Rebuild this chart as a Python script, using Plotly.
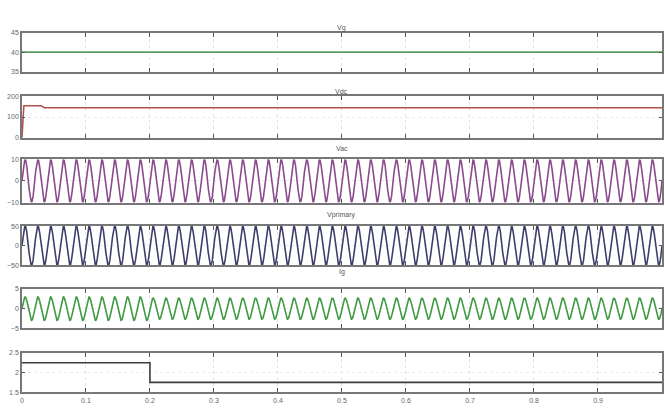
import numpy as np
import plotly.graph_objects as go

W, H = 665, 408

# ---- signal parameters (scope traces) ----
t_end = 1.0
grid_freq = 50.0                      # Hz

vg_level = [40.0]                      # Vg (V)
vdc_time = [0.0, 0.003, 0.03, 0.035, 1.0]
vdc_vals = [0.0, 155.0, 155.0, 145.0, 145.0]
vac_amp = [9.8]                        # Vac peak
vprim_amp = [50.0]                     # Vprimary peak
ig_seg_start = [0.0, 0.2]
ig_seg_amp = [3.0, 2.7]                # Ig peak per segment
step_time = [0.0, 0.2, 0.2, 1.0]
step_vals = [2.25, 2.25, 1.75, 1.75]

x_ticks = [0, 0.1, 0.2, 0.3, 0.4, 0.5, 0.6, 0.7, 0.8, 0.9]
x_ticklabels = ["0", "0.1", "0.2", "0.3", "0.4", "0.5", "0.6", "0.7", "0.8", "0.9"]

titles = ["Vg", "Vdc", "Vac", "Vprimary", "Ig", ""]
y_ranges = [[35, 45], [0, 200], [-10, 10], [-50, 50], [-5, 5], [1.5, 2.5]]
y_ticks = [[35, 40, 45], [0, 100, 200], [-10, 0, 10], [-50, 0, 50], [-5, 0, 5], [1.5, 2, 2.5]]
colors = ["#5f9a63", "#b4504e", "#8a4a8c", "#3d3f6b", "#3f9a45", "#3c3c3c"]

# pixel rows of each panel (top, bottom)
rows_px = [(29, 69), (94, 136), (158, 202), (226, 266), (290, 330), (355, 395)]
x_left, x_right = 20, 662

t = np.linspace(0, t_end, 6001)
seg_idx = np.searchsorted(ig_seg_start, t, side="right") - 1
ig_amp_t = np.array(ig_seg_amp)[seg_idx]

series = [
    (t[[0, -1]], np.full(2, vg_level[0])),
    (np.array(vdc_time), np.array(vdc_vals)),
    (t, vac_amp[0] * np.sin(2 * np.pi * grid_freq * t)),
    (t, vprim_amp[0] * np.sin(2 * np.pi * grid_freq * t)),
    (t, ig_amp_t * np.sin(2 * np.pi * grid_freq * t)),
    (np.array(step_time), np.array(step_vals)),
]

fig = go.Figure()
annotations = []
for i, ((xs, ys), col) in enumerate(zip(series, colors)):
    n = "" if i == 0 else str(i + 1)
    fig.add_trace(go.Scatter(x=xs, y=ys, mode="lines",
                             line=dict(color=col, width=1.6),
                             xaxis="x" + n, yaxis="y" + n, showlegend=False))
    top, bot = rows_px[i]
    ydom = [1 - bot / H, 1 - top / H]
    last = i == len(series) - 1
    fig.layout["xaxis" + n] = dict(
        domain=[x_left / W, x_right / W], range=[0, t_end], anchor="y" + n,
        tickvals=x_ticks, ticktext=x_ticklabels, showticklabels=last,
        ticks="inside", ticklen=4, tickcolor="#555", mirror="ticks",
        showline=True, linecolor="#777", linewidth=2,
        showgrid=True, gridcolor="#e4e4e4", griddash="dot", gridwidth=1,
        zeroline=False, tickfont=dict(size=7, color="#666", family="Liberation Sans"))
    fig.layout["yaxis" + n] = dict(
        domain=ydom, range=y_ranges[i], anchor="x" + n,
        tickvals=y_ticks[i], ticks="inside", ticklen=3, tickcolor="#555",
        mirror="ticks", showline=True, linecolor="#777", linewidth=1.5,
        showgrid=True, gridcolor="#ececec", griddash="dot", zeroline=False,
        tickfont=dict(size=7, color="#666", family="Liberation Sans"))
    if titles[i]:
        annotations.append(dict(text=titles[i], x=(x_left + x_right) / 2 / W,
                                y=1 - (top - 11) / H, xref="paper", yref="paper",
                                showarrow=False, font=dict(size=7, color="#555",
                                                           family="Liberation Sans")))

fig.update_layout(width=W, height=H, margin=dict(l=0, r=0, t=0, b=0),
                  paper_bgcolor="white", plot_bgcolor="white",
                  annotations=annotations)
fig.write_html("out.html")
